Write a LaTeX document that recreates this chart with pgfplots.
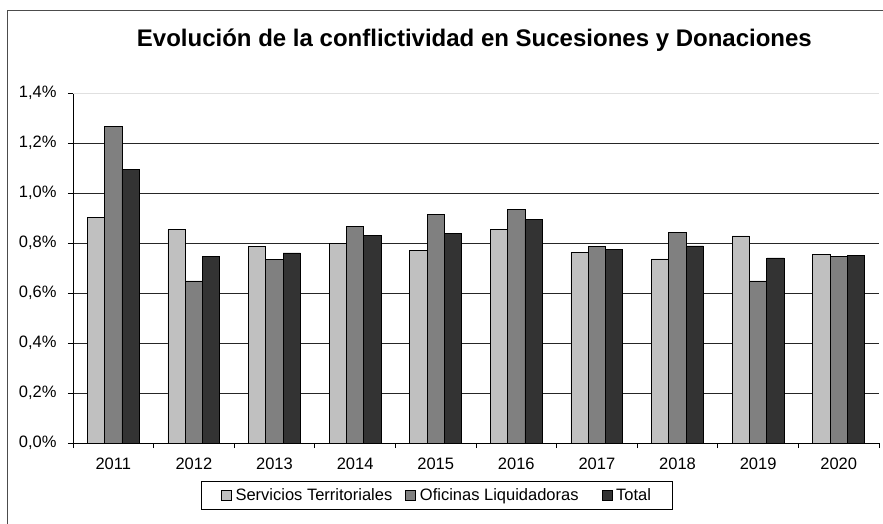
\documentclass[border=0pt]{standalone}
\usepackage{fontspec}
\setmainfont{Liberation Sans}
\usepackage{pgfplots}
\pgfplotsset{compat=1.18}
\definecolor{cST}{HTML}{C0C0C0}
\definecolor{cOL}{HTML}{808080}
\definecolor{cT}{HTML}{333333}
\begin{document}
\begin{tikzpicture}
\useasboundingbox (-73pt,-81pt) rectangle (810pt,443pt);
\draw[black!70, line width=0.8pt] (-66pt,-90pt) -- (-66pt,433pt) -- (820pt,433pt);
\begin{axis}[
  at={(0pt,0pt)}, anchor=south west,
  scale only axis, width=806pt, height=350pt,
  ymin=0, ymax=1.4, xmin=-0.5, xmax=9.5,
  enlargelimits=false,
  ybar=0pt, bar width=17.3pt,
  axis lines*=left,
  axis line style={black, line width=0.8pt},
  tick align=outside, major tick length=5pt,
  tick style={black, line width=0.8pt},
  ytick={0,0.2,0.4,0.6,0.8,1.0,1.2},
  extra y ticks={1.4},
  ymajorgrids,
  major grid style={black!85, line width=0.8pt},
  extra y tick style={major grid style={black!12, line width=0.8pt}},
  /pgf/number format/assume math mode=true,
  yticklabel={\pgfmathprintnumber[fixed, fixed zerofill, precision=1, use comma, assume math mode=true]{\tick}\%},
  yticklabel style={xshift=-8pt},
  xtick={-0.5,0.5,...,9.5},
  xticklabels={},
  extra x ticks={0,1,2,3,4,5,6,7,8,9},
  extra x tick labels={2011,2012,2013,2014,2015,2016,2017,2018,2019,2020},
  extra x tick style={major tick length=0pt},
  xticklabel style={yshift=-11pt},
  ticklabel style={font=\fontsize{16.5}{19}\selectfont},
  title={Evolución de la conflictividad en Sucesiones y Donaciones},
  title style={at={(axis description cs:0.498,1.117)}, anchor=base, font=\bfseries\fontsize{24}{28}\selectfont},
  legend columns=3,
  legend style={at={(axis description cs:0.4516,-0.15)}, anchor=center, draw=black, line width=0.8pt,
    font=\fontsize{16.5}{19}\selectfont, inner xsep=19.5pt, inner ysep=5.5pt,
    nodes={inner sep=2pt},
    /tikz/every odd column/.append style={column sep=2pt},
    /tikz/every even column/.append style={column sep=0pt}},
  legend image code/.code={\draw[#1, line width=0.6pt] (0pt,-5pt) rectangle (10pt,5pt);},
]
\addplot[fill=cST, draw=black, line width=0.9pt] coordinates {(0,0.903) (1,0.853) (2,0.785) (3,0.799) (4,0.771) (5,0.853) (6,0.763) (7,0.736) (8,0.828) (9,0.755)};
\addplot[fill=cOL, draw=black, line width=0.9pt] coordinates {(0,1.265) (1,0.648) (2,0.735) (3,0.865) (4,0.913) (5,0.935) (6,0.785) (7,0.843) (8,0.648) (9,0.747)};
\addplot[fill=cT, draw=black, line width=0.9pt] coordinates {(0,1.095) (1,0.747) (2,0.760) (3,0.829) (4,0.837) (5,0.893) (6,0.773) (7,0.788) (8,0.740) (9,0.751)};
\legend{Servicios Territoriales\kern11pt, Oficinas Liquidadoras\kern21pt, Total}
\end{axis}
\end{tikzpicture}
\end{document}
